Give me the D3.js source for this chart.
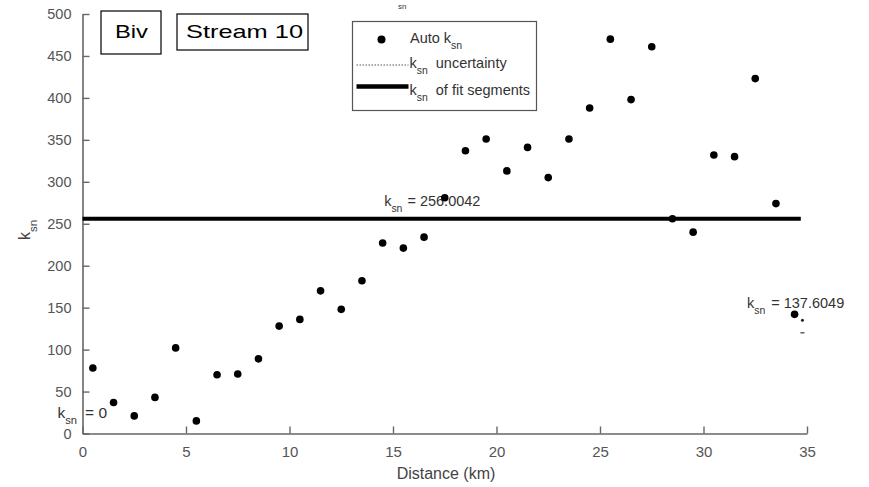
<!DOCTYPE html>
<html>
<head>
<meta charset="utf-8">
<script src="https://cdn.jsdelivr.net/npm/d3@7"></script>
<style>
    body { margin: 0; background: #fff; }
    svg { display: block; }
    text { font-family: "Liberation Sans", Arial, sans-serif; }
</style>
</head>
<body>
<svg id="chart"></svg>
<script>
// chart values
var distanceKm = [0.5, 1.5, 2.5, 3.5, 4.5, 5.5, 6.5, 7.5, 8.5, 9.5, 10.5, 11.5, 12.5, 13.5, 14.5, 15.5, 16.5, 17.5,
    18.5, 19.5, 20.5, 21.5, 22.5, 23.5, 24.5, 25.5, 26.5, 27.5, 28.5, 29.5, 30.5, 31.5, 32.5, 33.5, 34.4];
var autoKsn = [78, 37, 21, 43, 102, 15, 70, 71, 89, 128, 136, 170, 148, 182, 227, 221, 234, 281,
    337, 351, 313, 341, 305, 351, 388, 470, 398, 461, 256, 240, 332, 330, 423, 274, 142];
var fitSegmentX = [0, 34.7];
var fitSegmentKsn = 256.0042;
var lastSegmentKsn = 137.6049;
var uncertaintyDotX = [34.78];
var uncertaintyDotKsn = [135];
var uncertaintyDashX = [34.78];
var uncertaintyDashKsn = [120];
var xTicks = [0, 5, 10, 15, 20, 25, 30, 35];
var yTicks = [0, 50, 100, 150, 200, 250, 300, 350, 400, 450, 500];

var width = 869, height = 487;
var svg = d3.select('#chart')
    .attr('width', width)
    .attr('height', height);

svg.append('rect').attr('width', width).attr('height', height).attr('fill', '#fff');

var xScale = d3.scaleLinear().domain([0, 35]).range([82.5, 807]);
var yScale = d3.scaleLinear().domain([0, 500]).range([433.5, 14]);

// axes, ticks point inwards like matlab
var axisColor = '#666';
var gx = svg.append('g')
    .attr('transform', 'translate(0,' + yScale(0) + ')')
    .call(d3.axisBottom(xScale).tickValues(xTicks).tickSizeInner(-7).tickSizeOuter(0).tickPadding(13));
var gy = svg.append('g')
    .attr('transform', 'translate(' + xScale(0) + ',0)')
    .call(d3.axisLeft(yScale).tickValues(yTicks).tickSizeInner(-7).tickSizeOuter(0).tickPadding(11));

[gx, gy].forEach(function (g) {
    g.attr('font-family', null).attr('font-size', null);
    g.select('.domain').attr('stroke', axisColor).attr('stroke-width', 1.6);
    g.selectAll('.tick line').attr('stroke', axisColor).attr('stroke-width', 1.4);
    g.selectAll('.tick text').attr('fill', '#555').attr('font-size', '14.5px');
});
gx.selectAll('.tick text').attr('font-size', '15px');

// k with subscript sn, then the rest of the text
function ksnText(parent, x, y, size, rest, color, gap) {
    var t = parent.append('text')
        .attr('x', x)
        .attr('y', y)
        .attr('font-size', size + 'px')
        .attr('fill', color || '#333');
    t.append('tspan').text('k');
    t.append('tspan').attr('dy', size * 0.42).attr('font-size', (size * 0.72) + 'px').text('sn');
    if (rest) t.append('tspan').attr('dy', -size * 0.42).attr('dx', gap || 0).text(rest);
    return t;
}

// axis labels
svg.append('text')
    .attr('x', 446)
    .attr('y', 479)
    .attr('text-anchor', 'middle')
    .attr('font-size', '16px')
    .attr('fill', '#444')
    .text('Distance (km)');

var gYLabel = svg.append('g').attr('transform', 'translate(30,240) rotate(-90)');
ksnText(gYLabel, 0, 0, 16, null, '#444');

// fit segment
svg.append('line')
    .attr('x1', xScale(fitSegmentX[0]))
    .attr('x2', xScale(fitSegmentX[1]))
    .attr('y1', yScale(fitSegmentKsn))
    .attr('y2', yScale(fitSegmentKsn))
    .attr('stroke', '#000')
    .attr('stroke-width', 4);

// segment labels
ksnText(svg, xScale(14.5) + 1.5, yScale(fitSegmentKsn) - 13, 14.5, '= ' + fitSegmentKsn.toFixed(4), '#333', 5);
ksnText(svg, xScale(32.1), yScale(lastSegmentKsn) - 10, 14.5, '= ' + lastSegmentKsn.toFixed(4), '#333', 6);
ksnText(svg, xScale(0) - 25, yScale(0) - 16, 15.5, '= 0', '#333', 8);

// auto ksn points
svg.append('g').selectAll('circle')
    .data(distanceKm)
    .enter()
    .append('circle')
    .attr('cx', function (d) { return xScale(d); })
    .attr('cy', function (d, i) { return yScale(autoKsn[i]); })
    .attr('r', 3.8)
    .attr('fill', '#000');

// little uncertainty marks near the last point
svg.selectAll('.unc-dot')
    .data(uncertaintyDotX)
    .enter()
    .append('circle')
    .attr('class', 'unc-dot')
    .attr('cx', function (d) { return xScale(d); })
    .attr('cy', function (d, i) { return yScale(uncertaintyDotKsn[i]); })
    .attr('r', 1.5)
    .attr('fill', '#222');
svg.selectAll('.unc-dash')
    .data(uncertaintyDashX)
    .enter()
    .append('line')
    .attr('class', 'unc-dash')
    .attr('x1', function (d) { return xScale(d) - 2; })
    .attr('x2', function (d) { return xScale(d) + 2; })
    .attr('y1', function (d, i) { return yScale(uncertaintyDashKsn[i]); })
    .attr('y2', function (d, i) { return yScale(uncertaintyDashKsn[i]); })
    .attr('stroke', '#333')
    .attr('stroke-width', 1.2);

// legend
var gLegend = svg.append('g').attr('transform', 'translate(352.5,21.5)');
gLegend.append('rect')
    .attr('width', 184)
    .attr('height', 89)
    .attr('fill', '#fff')
    .attr('stroke', '#555')
    .attr('stroke-width', 1.2);
gLegend.append('circle').attr('cx', 29).attr('cy', 18).attr('r', 4).attr('fill', '#000');
var autoLabel = gLegend.append('text')
    .attr('x', 57.5)
    .attr('y', 21)
    .attr('font-size', '14.5px')
    .attr('fill', '#333');
autoLabel.append('tspan').text('Auto k');
autoLabel.append('tspan').attr('dy', 6).attr('font-size', '10.5px').text('sn');

gLegend.append('line')
    .attr('x1', 4).attr('x2', 56)
    .attr('y1', 43.5).attr('y2', 43.5)
    .attr('stroke', '#555')
    .attr('stroke-width', 1)
    .attr('stroke-dasharray', '1.5,1.5');
ksnText(gLegend, 57, 46, 14.5, 'uncertainty', '#333', 8);

gLegend.append('line')
    .attr('x1', 4).attr('x2', 56)
    .attr('y1', 65).attr('y2', 65)
    .attr('stroke', '#000')
    .attr('stroke-width', 4.5);
ksnText(gLegend, 57, 73, 14.5, 'of fit segments', '#333', 8);

// cut off text at the very top
svg.append('text')
    .attr('x', 398)
    .attr('y', 9)
    .attr('font-size', '8px')
    .attr('fill', '#333')
    .text('sn');

// panel tags
function tagBox(x, y, w, h, label, textX, textLen) {
    svg.append('rect')
        .attr('x', x).attr('y', y)
        .attr('width', w).attr('height', h)
        .attr('fill', '#fff')
        .attr('stroke', '#000')
        .attr('stroke-width', 1.2);
    svg.append('text')
        .attr('x', textX)
        .attr('y', 37.5)
        .attr('font-family', 'Lato, "Open Sans", sans-serif')
        .attr('font-size', '19px')
        .attr('textLength', textLen)
        .attr('lengthAdjust', 'spacingAndGlyphs')
        .attr('fill', '#000')
        .text(label);
}
tagBox(101, 11, 60, 43, 'Biv', 115, 33);
tagBox(177, 14, 131, 36, 'Stream 10', 186, 117);
</script>
</body>
</html>
